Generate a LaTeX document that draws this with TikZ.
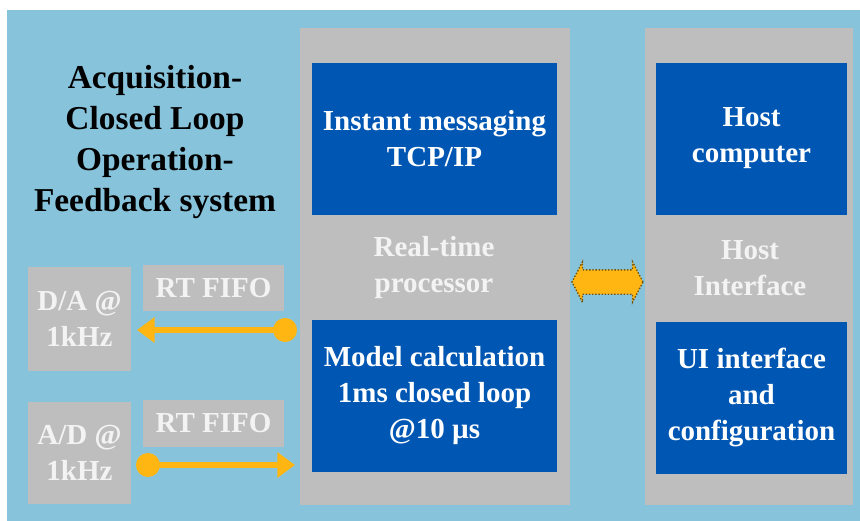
\documentclass[tikz,border=0pt]{standalone}
\usepackage{fontspec}
\setmainfont{Liberation Serif}
\usepackage{tikz}
\usetikzlibrary{arrows.meta,positioning,shapes.arrows}
\definecolor{skyback}{HTML}{87C4DC}
\definecolor{panelgray}{HTML}{BEBEBE}
\definecolor{boxblue}{HTML}{0057B3}
\definecolor{linkorange}{HTML}{FFB612}
\definecolor{paletext}{HTML}{F3F3F3}
\tikzset{panel/.style={rectangle,fill=panelgray,inner sep=0},
    bluecell/.style={rectangle,fill=boxblue,text=white,inner sep=0,align=center,
        minimum width=245*0.02cm,minimum height=152*0.02cm,
        font=\fontsize{16.5}{20.5}\selectfont\bfseries},
    graycell/.style={rectangle,fill=panelgray,text=paletext,inner sep=0,align=center,
        font=\fontsize{16.5}{20.5}\selectfont\bfseries},
    panellabel/.style={text=paletext,align=center,
        font=\fontsize{16.5}{20.5}\selectfont\bfseries},
    fifoarrow/.style={draw=linkorange,line width=3pt,
        {Circle[length=13.6pt]}-{Triangle[length=10pt,width=14pt]}}}

\begin{document}
\begin{tikzpicture}[x=0.02cm,y=-0.02cm]

\useasboundingbox (0,0) rectangle (860,521);
\fill[skyback] (7,10) rectangle (860,521);

\node (p mid) [panel,minimum width=270*0.02cm,minimum height=477*0.02cm] at (435,266.5) {};
\node (p host) [panel,minimum width=208*0.02cm,minimum height=477*0.02cm] at (749,266.5) {};

\node (b tcp) [bluecell] at (434.5,139) {Instant messaging\\TCP/IP};
\node (b model) [bluecell] at (434.5,396) {Model calculation\\1ms closed loop\\@10 µs};
\node (b host) [bluecell,minimum width=191*0.02cm] at (751.5,138.5) {Host\\computer};
\node (b ui) [bluecell,minimum width=191*0.02cm] at (751.5,397.5) {UI interface\\and\\configuration};

\node (t rtp) [panellabel] at (434,268) {Real-time\\processor};
\node (t hostif) [panellabel] at (750,268) {Host\\Interface};

\node (t title) [align=center,font=\fontsize{19}{23.2}\selectfont\bfseries] at (155,142)
    {Acquisition-\\Closed Loop\\Operation-\\Feedback system};

\node (g da) [graycell,minimum width=103*0.02cm,minimum height=104*0.02cm] at (79.5,318.5) {D/A @\\1kHz};
\node (g fifo1) [graycell,minimum width=141*0.02cm,minimum height=46*0.02cm] at (213.5,288) {RT FIFO};
\node (g ad) [graycell,minimum width=103*0.02cm,minimum height=102*0.02cm] at (79.5,453) {A/D @\\1kHz};
\node (g fifo2) [graycell,minimum width=141*0.02cm,minimum height=47*0.02cm] at (213.5,423.5) {RT FIFO};

\node (link) [double arrow,fill=linkorange,draw=black!55!linkorange,densely dotted,line width=0.8pt,
    inner xsep=0,inner ysep=11.5*0.02cm,minimum height=71*0.02cm,
    double arrow head extend=8*0.02cm,double arrow tip angle=125] at (607.5,282) {};

\coordinate (da src) at (297,330);
\coordinate (da dst) at (137,330);
\coordinate (ad src) at (136,465);
\coordinate (ad dst) at (295,465);

\draw [fifoarrow] (da src) -- (da dst);
\draw [fifoarrow] (ad src) -- (ad dst);

\end{tikzpicture}
\end{document}
